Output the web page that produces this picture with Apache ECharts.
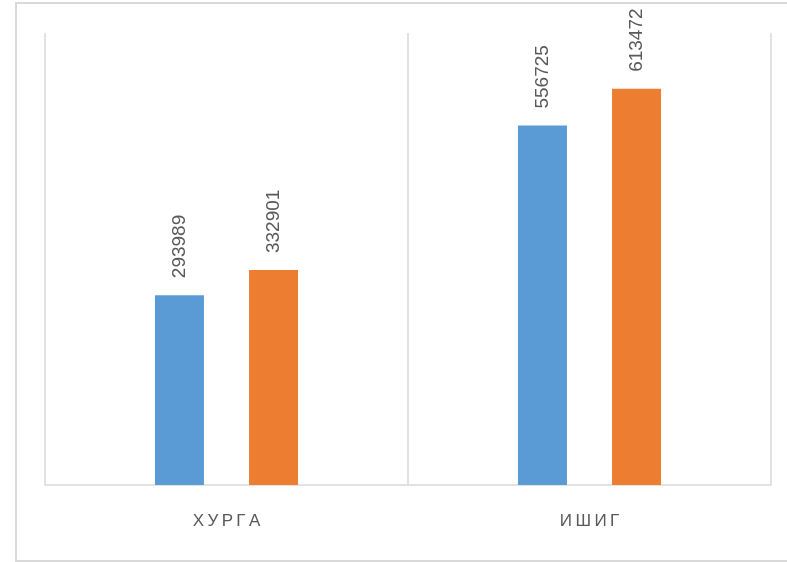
<!DOCTYPE html>
<html>
<head>
<meta charset="utf-8">
<script src="https://cdn.jsdelivr.net/npm/echarts@6/dist/echarts.min.js"></script>
<style>html,body{margin:0;padding:0;background:#fff}#c{width:787px;height:562px}</style>
</head>
<body>
<div id="c"></div>
<script>
var categories = ['ХУРГА', 'ИШИГ'];
var series1 = [293989, 556725];
var series2 = [332901, 613472];

var chart = echarts.init(document.getElementById('c'), null, {renderer: 'canvas'});
function spaced(s) { return s.split('').join('\u2009'); }
var labelOpt = {
  show: true, position: 'top', rotate: 90, align: 'left', verticalAlign: 'middle',
  distance: 17, color: '#595959', fontSize: 19, fontFamily: 'Liberation Sans, Arial, sans-serif'
};
chart.setOption({
  animation: false,
  backgroundColor: '#fff',
  graphic: [{
    type: 'rect', shape: {x: 16, y: 3, width: 800, height: 558},
    style: {fill: 'none', stroke: '#d9d9d9', lineWidth: 2}, silent: true
  }],
  grid: {left: 45, right: 16, top: 33, bottom: 77, containLabel: false},
  xAxis: {
    type: 'category', data: categories, boundaryGap: true,
    axisLine: {show: true, lineStyle: {color: '#d9d9d9', width: 1.5}},
    axisTick: {show: false},
    splitLine: {show: true, lineStyle: {color: '#d9d9d9', width: 1.5}},
    axisLabel: {
      margin: 28, color: '#595959', fontSize: 17,
      fontFamily: 'Liberation Sans, Arial, sans-serif',
      formatter: function (v) { return spaced(v); }
    }
  },
  yAxis: {
    type: 'value', min: 0, max: 700000, show: false,
    splitLine: {show: false}
  },
  series: [
    {type: 'bar', data: series1, barWidth: 49, barGap: '92%', itemStyle: {color: '#5B9BD5'}, label: labelOpt},
    {type: 'bar', data: series2, barWidth: 49, barGap: '92%', itemStyle: {color: '#ED7D31'}, label: labelOpt}
  ]
});
</script>
</body>
</html>
